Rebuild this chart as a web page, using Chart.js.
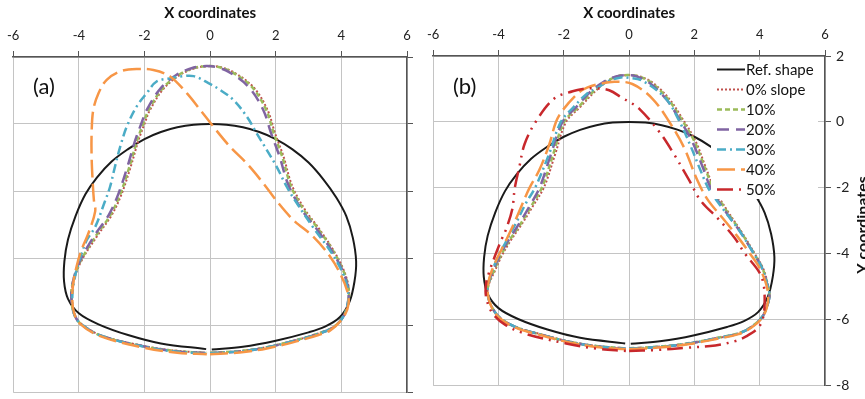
<!DOCTYPE html>
<html>
<head>
<meta charset="utf-8">
<script src="https://cdn.jsdelivr.net/npm/chart.js@4.4.1/dist/chart.umd.min.js"></script>
<style>
  html, body { margin: 0; padding: 0; background: #fff; }
  #wrap { position: relative; width: 865px; height: 399px; overflow: hidden; }
  #chartA { position: absolute; left: 0; top: 0; }
  #chartB { position: absolute; left: 420px; top: 0; }
</style>
</head>
<body>
<div id="wrap">
  <canvas id="chartA" width="420" height="399"></canvas>
  <canvas id="chartB" width="445" height="399"></canvas>
</div>
<script>
// axis ranges / ticks
const xRange = [-6, 6];
const yRange = [-8, 2];
const tickStep = 2;
const seriesLabels = ['Ref. shape', '0% slope', '10%', '20%', '30%', '40%', '50%'];

// reference shape (same in both panels), [x, y]
const refShape = [[0.05,-6.73],[1,-6.65],[2,-6.47],[3,-6.22],[3.5,-6.05],[3.95,-5.77],[4.25,-5.3],[4.4,-4.7],[4.45,-4.1],[4.35,-3.4],[4.15,-2.75],[3.85,-2.2],[3.45,-1.65],[3.0,-1.15],[2.5,-0.75],[2.0,-0.45],[1.5,-0.24],[1.0,-0.1],[0.5,-0.02],[0,0],[-0.5,-0.02],[-1,-0.1],[-1.5,-0.24],[-2,-0.45],[-2.5,-0.75],[-3,-1.12],[-3.45,-1.6],[-3.8,-2.1],[-4.1,-2.75],[-4.33,-3.45],[-4.44,-4.1],[-4.45,-4.7],[-4.33,-5.22],[-4.0,-5.65],[-3.4,-5.98],[-2.5,-6.3],[-1.5,-6.55],[-0.12,-6.72]];

// panel (a)
const slope0a = [[0.02,-6.83],[0.9,-6.78],[1.73,-6.66],[2.74,-6.42],[3.3,-6.25],[3.76,-6.06],[4.07,-5.72],[4.22,-5.26],[4.22,-4.86],[4.07,-4.36],[3.76,-3.77],[3.3,-3.1],[2.92,-2.6],[2.62,-2.1],[2.44,-1.68],[2.24,-0.98],[1.98,-0.28],[1.75,0.42],[1.32,1.1],[0.71,1.55],[0.3,1.7],[0.02,1.73],[-0.41,1.68],[-0.91,1.47],[-1.42,1.05],[-1.83,0.42],[-2.0,0.0],[-2.18,-0.48],[-2.42,-1.28],[-2.7,-2.1],[-3.0,-2.72],[-3.46,-3.37],[-3.96,-4.16],[-4.2,-4.85],[-4.22,-5.3],[-4.15,-5.65],[-3.98,-5.92],[-3.35,-6.3],[-2.0,-6.63],[-1.0,-6.77],[-0.08,-6.83]];
const slope10a = [[0.0,-6.83],[0.9,-6.78],[1.73,-6.66],[2.74,-6.42],[3.3,-6.25],[3.76,-6.06],[4.07,-5.72],[4.22,-5.26],[4.21,-4.86],[4.05,-4.36],[3.74,-3.77],[3.27,-3.1],[2.88,-2.6],[2.58,-2.1],[2.4,-1.68],[2.2,-0.98],[1.94,-0.28],[1.71,0.42],[1.28,1.1],[0.67,1.55],[0.26,1.7],[-0.02,1.73],[-0.45,1.68],[-0.95,1.47],[-1.46,1.05],[-1.87,0.42],[-2.04,0.0],[-2.22,-0.48],[-2.46,-1.28],[-2.74,-2.1],[-3.04,-2.72],[-3.5,-3.37],[-3.98,-4.16],[-4.21,-4.85],[-4.22,-5.3],[-4.15,-5.65],[-3.98,-5.93],[-3.35,-6.31],[-2.0,-6.64],[-1.0,-6.78],[-0.1,-6.83]];
const slope20a = [[0.0,-6.84],[0.9,-6.79],[1.73,-6.67],[2.74,-6.43],[3.3,-6.26],[3.76,-6.07],[4.07,-5.73],[4.21,-5.26],[4.2,-4.86],[4.03,-4.36],[3.7,-3.77],[3.22,-3.1],[2.82,-2.6],[2.52,-2.1],[2.33,-1.68],[2.12,-0.98],[1.86,-0.28],[1.62,0.42],[1.18,1.1],[0.58,1.55],[0.18,1.7],[-0.12,1.73],[-0.52,1.68],[-1.02,1.47],[-1.52,1.05],[-1.93,0.42],[-2.1,0.0],[-2.28,-0.48],[-2.52,-1.28],[-2.8,-2.1],[-3.09,-2.72],[-3.55,-3.37],[-4.0,-4.16],[-4.21,-4.85],[-4.22,-5.3],[-4.15,-5.65],[-3.98,-5.93],[-3.35,-6.31],[-2.0,-6.64],[-1.0,-6.79],[-0.1,-6.84]];
const slope30a = [[0.0,-6.84],[0.9,-6.79],[1.73,-6.67],[2.74,-6.43],[3.3,-6.26],[3.76,-6.07],[4.07,-5.73],[4.21,-5.26],[4.18,-4.86],[4.0,-4.36],[3.65,-3.77],[3.15,-3.1],[2.6,-2.3],[2.34,-1.88],[2.03,-1.28],[1.73,-0.78],[1.42,-0.28],[1.12,0.22],[0.71,0.72],[0.3,1.02],[-0.05,1.22],[-0.5,1.43],[-0.91,1.42],[-1.17,1.37],[-1.63,1.27],[-1.93,0.92],[-2.24,0.52],[-2.54,-0.08],[-2.74,-0.68],[-2.9,-1.28],[-3.05,-1.88],[-3.22,-2.35],[-3.5,-3.07],[-3.76,-3.47],[-3.91,-3.86],[-4.07,-4.36],[-4.17,-4.86],[-4.2,-5.3],[-4.15,-5.65],[-3.98,-5.93],[-3.35,-6.31],[-2.0,-6.65],[-1.0,-6.8],[-0.1,-6.85]];
const slope40a = [[0.0,-6.87],[0.9,-6.82],[1.73,-6.7],[2.74,-6.46],[3.3,-6.3],[3.66,-6.16],[4.07,-5.76],[4.22,-5.36],[4.17,-4.96],[3.96,-4.46],[3.66,-3.96],[3.15,-3.37],[2.54,-2.87],[2.03,-2.3],[1.63,-1.78],[1.12,-1.18],[0.61,-0.68],[0.1,-0.08],[-0.3,0.42],[-0.71,0.92],[-1.22,1.42],[-1.73,1.61],[-2.24,1.64],[-2.74,1.57],[-3.15,1.32],[-3.4,0.92],[-3.56,0.42],[-3.61,-0.28],[-3.61,-0.98],[-3.58,-1.68],[-3.54,-2.28],[-3.5,-2.6],[-3.71,-3.27],[-3.92,-3.76],[-4.07,-4.26],[-4.17,-4.76],[-4.2,-5.2],[-4.15,-5.62],[-3.98,-5.95],[-3.35,-6.33],[-2.0,-6.68],[-1.0,-6.83],[-0.1,-6.87]];

// panel (b)
const slope0b = [[0.02,-6.88],[1,-6.82],[1.85,-6.72],[2.7,-6.56],[3.35,-6.42],[3.75,-6.22],[4.08,-5.92],[4.22,-5.6],[4.3,-5.27],[4.25,-4.93],[4.1,-4.43],[3.85,-4.0],[3.44,-3.33],[3.04,-2.74],[2.62,-2.05],[2.34,-1.36],[2.03,-0.57],[1.62,0.12],[1.22,0.71],[0.71,1.2],[0.3,1.39],[0,1.42],[-0.3,1.39],[-0.71,1.2],[-1.07,0.9],[-1.5,0.45],[-1.93,0],[-2.27,-1.0],[-2.6,-1.97],[-2.95,-2.56],[-3.26,-3.06],[-3.66,-3.65],[-3.92,-4.1],[-4.12,-4.54],[-4.3,-4.94],[-4.33,-5.24],[-4.22,-5.58],[-3.97,-5.93],[-3.46,-6.23],[-2.74,-6.43],[-1.93,-6.64],[-1,-6.8],[-0.08,-6.88]];
const slope10b = [[0.0,-6.87],[1,-6.81],[1.85,-6.71],[2.7,-6.55],[3.35,-6.41],[3.75,-6.21],[4.07,-5.92],[4.22,-5.6],[4.3,-5.27],[4.24,-4.93],[4.08,-4.43],[3.83,-4.0],[3.42,-3.33],[3.01,-2.74],[2.59,-2.05],[2.31,-1.36],[1.99,-0.57],[1.58,0.12],[1.18,0.71],[0.67,1.2],[0.26,1.39],[-0.04,1.42],[-0.34,1.39],[-0.75,1.2],[-1.12,0.9],[-1.55,0.45],[-1.99,0],[-2.33,-1.0],[-2.66,-1.97],[-3.0,-2.56],[-3.3,-3.06],[-3.7,-3.65],[-3.95,-4.1],[-4.15,-4.54],[-4.31,-4.94],[-4.33,-5.24],[-4.22,-5.58],[-3.97,-5.93],[-3.46,-6.23],[-2.74,-6.44],[-1.93,-6.65],[-1,-6.8],[-0.1,-6.87]];
const slope20b = [[0.0,-6.88],[1,-6.82],[1.85,-6.72],[2.7,-6.56],[3.35,-6.42],[3.75,-6.22],[4.07,-5.93],[4.22,-5.6],[4.3,-5.27],[4.23,-4.93],[4.07,-4.43],[3.82,-4.0],[3.4,-3.33],[2.97,-2.74],[2.52,-2.05],[2.25,-1.36],[1.92,-0.57],[1.52,0.12],[1.12,0.71],[0.6,1.2],[0.2,1.39],[-0.08,1.42],[-0.4,1.38],[-0.8,1.2],[-1.2,0.9],[-1.62,0.45],[-2.04,0],[-2.4,-1.0],[-2.73,-1.97],[-3.05,-2.56],[-3.35,-3.06],[-3.73,-3.65],[-3.98,-4.1],[-4.18,-4.54],[-4.32,-4.94],[-4.33,-5.24],[-4.22,-5.58],[-3.97,-5.93],[-3.46,-6.23],[-2.74,-6.44],[-1.93,-6.65],[-1,-6.81],[-0.1,-6.88]];
const slope30b = [[0.0,-6.88],[1,-6.82],[1.85,-6.72],[2.7,-6.56],[3.35,-6.42],[3.75,-6.22],[4.07,-5.93],[4.22,-5.6],[4.3,-5.27],[4.23,-4.93],[4.07,-4.43],[3.82,-4.0],[3.4,-3.33],[2.95,-2.74],[2.45,-2.05],[2.2,-1.5],[1.9,-0.77],[1.54,0.02],[1.12,0.71],[0.41,1.25],[0.0,1.34],[-0.25,1.35],[-0.6,1.25],[-0.95,1.05],[-1.3,0.85],[-1.7,0.45],[-2.09,0],[-2.46,-1.0],[-2.88,-2.0],[-3.15,-2.45],[-3.46,-3.06],[-3.78,-3.65],[-4.02,-4.1],[-4.2,-4.54],[-4.32,-4.94],[-4.33,-5.24],[-4.22,-5.58],[-3.97,-5.93],[-3.46,-6.23],[-2.74,-6.44],[-1.93,-6.65],[-1,-6.81],[-0.1,-6.88]];
const slope40b = [[0.0,-6.9],[1,-6.84],[1.85,-6.74],[2.7,-6.58],[3.35,-6.44],[3.75,-6.24],[4.07,-5.95],[4.22,-5.62],[4.26,-5.25],[4.17,-4.83],[3.98,-4.4],[3.72,-4.02],[3.3,-3.45],[2.85,-2.9],[2.4,-2.35],[2.08,-1.75],[1.68,-0.77],[1.22,0.02],[0.71,0.71],[0.1,1.15],[-0.45,1.22],[-0.92,1.15],[-1.27,1.05],[-1.53,0.9],[-2.03,0.36],[-2.24,0],[-2.44,-0.67],[-2.75,-1.46],[-3.05,-2.0],[-3.26,-2.47],[-3.56,-3.16],[-3.82,-3.7],[-4.07,-4.2],[-4.28,-4.74],[-4.33,-5.2],[-4.22,-5.6],[-3.97,-5.95],[-3.46,-6.25],[-2.74,-6.46],[-1.93,-6.67],[-1,-6.83],[-0.1,-6.9]];
const slope50b = [[0.0,-6.95],[0.81,-6.92],[1.8,-6.85],[2.64,-6.78],[3.25,-6.65],[3.6,-6.5],[3.95,-6.25],[4.1,-5.95],[4.15,-5.52],[4.12,-4.93],[3.98,-4.55],[3.55,-4.0],[3.24,-3.53],[2.73,-2.94],[2.2,-2.4],[1.83,-1.75],[1.37,-0.97],[0.91,-0.28],[0.3,0.41],[0,0.61],[-0.2,0.72],[-0.61,0.96],[-1.05,1.02],[-1.42,1.0],[-1.73,0.93],[-2.29,0.71],[-2.85,0.02],[-3.2,-0.67],[-3.36,-1.36],[-3.5,-2.0],[-3.58,-2.66],[-3.77,-3.26],[-3.92,-3.6],[-4.12,-4.1],[-4.28,-4.54],[-4.38,-4.9],[-4.38,-5.3],[-4.2,-5.78],[-3.8,-6.15],[-3.2,-6.42],[-1.93,-6.72],[-1,-6.88],[-0.1,-6.95]];

// line look per series (same order as seriesLabels)
const lineStyles = [
  { color: '#1a1a1a', dash: [], width: 2 },
  { color: '#c0504d', dash: [2, 2], width: 2 },
  { color: '#9bbb59', dash: [5, 3], width: 2.5 },
  { color: '#8064a2', dash: [12, 7], width: 2.5 },
  { color: '#4bacc6', dash: [9, 4, 2, 4], width: 2.5 },
  { color: '#f79646', dash: [18, 6], width: 2.5 },
  { color: '#c8282c', dash: [16, 6, 2, 6, 2, 6], width: 2.5 }
];

function makeDataset(i, pts) {
  const s = lineStyles[i];
  return {
    label: seriesLabels[i],
    data: pts.map(p => ({ x: p[0], y: p[1] })),
    showLine: true,
    pointRadius: 0,
    borderColor: s.color,
    backgroundColor: s.color,
    borderWidth: s.width,
    borderDash: s.dash,
    tension: 0.35,
    fill: false,
    order: seriesLabels.length - i
  };
}

const fontFamily = 'Lato, "Open Sans", sans-serif';

function xScale(h) {
  return {
    type: 'linear',
    position: 'top',
    min: xRange[0],
    max: xRange[1],
    ticks: { stepSize: tickStep, color: '#222', padding: 7, maxRotation: 0, font: { size: 13, family: fontFamily } },
    grid: { color: '#c4c4c4', lineWidth: 1, tickLength: 6, tickColor: '#555' },
    border: { color: '#555', width: 1.5 },
    title: { display: true, text: 'X coordinates', color: '#111', padding: { top: 4, bottom: 0 }, font: { size: 15, weight: 'bold', family: fontFamily } },
    afterFit: s => { s.height = h; }
  };
}

function yScale(showLabels, w) {
  return {
    type: 'linear',
    position: 'right',
    min: yRange[0],
    max: yRange[1],
    ticks: { stepSize: tickStep, display: showLabels, color: '#222', padding: 5, font: { size: 14, family: fontFamily } },
    grid: { color: '#c4c4c4', lineWidth: 1, tickLength: 6, tickColor: '#555' },
    border: { color: '#555', width: 1.5 },
    afterFit: s => { s.width = w; }
  };
}

// "(a)" / "(b)" tag inside the plot
const panelLabel = {
  id: 'panelLabel',
  afterDraw(chart, args, opts) {
    const ctx = chart.ctx;
    ctx.save();
    ctx.font = '22px ' + fontFamily;
    ctx.fillStyle = '#111';
    ctx.textBaseline = 'middle';
    ctx.fillText(opts.text, 33, 87);
    ctx.restore();
  }
};

// legend box with white background, drawn over the plot
const legendBox = {
  id: 'legendBox',
  afterDatasetsDraw(chart) {
    const ctx = chart.ctx;
    ctx.save();
    ctx.fillStyle = '#fff';
    ctx.fillRect(291, 60, 107, 139);
    chart.data.datasets.forEach((ds, i) => {
      const y = 69.5 + i * 20;
      ctx.strokeStyle = ds.borderColor;
      ctx.lineWidth = ds.borderWidth;
      ctx.setLineDash(ds.borderDash);
      ctx.beginPath();
      ctx.moveTo(297, y);
      ctx.lineTo(325, y);
      ctx.stroke();
      ctx.setLineDash([]);
      ctx.fillStyle = '#111';
      ctx.font = '15px ' + fontFamily;
      ctx.textBaseline = 'middle';
      ctx.fillText(ds.label, 326, y + 1);
    });
    ctx.restore();
  }
};

// right-hand y title, reading bottom to top
const yTitle = {
  id: 'yTitle',
  afterDraw(chart) {
    const ctx = chart.ctx;
    ctx.save();
    ctx.translate(448, 225);
    ctx.rotate(-Math.PI / 2);
    ctx.font = 'bold 16px ' + fontFamily;
    ctx.fillStyle = '#111';
    ctx.textAlign = 'center';
    ctx.textBaseline = 'alphabetic';
    ctx.fillText('Y coordinates', 0, 0);
    ctx.restore();
  }
};

new Chart(document.getElementById('chartA'), {
  type: 'scatter',
  data: {
    datasets: [
      makeDataset(0, refShape),
      makeDataset(1, slope0a),
      makeDataset(2, slope10a),
      makeDataset(3, slope20a),
      makeDataset(4, slope30a),
      makeDataset(5, slope40a)
    ]
  },
  options: {
    responsive: false,
    animation: false,
    events: [],
    layout: { padding: { left: 13, right: 0, top: 0, bottom: 7 } },
    plugins: {
      legend: { display: false },
      tooltip: { enabled: false },
      panelLabel: { text: '(a)' }
    },
    scales: { x: xScale(57), y: yScale(false, 13) }
  },
  plugins: [panelLabel]
});

new Chart(document.getElementById('chartB'), {
  type: 'scatter',
  data: {
    datasets: [
      makeDataset(0, refShape),
      makeDataset(1, slope0b),
      makeDataset(2, slope10b),
      makeDataset(3, slope20b),
      makeDataset(4, slope30b),
      makeDataset(5, slope40b),
      makeDataset(6, slope50b)
    ]
  },
  options: {
    responsive: false,
    animation: false,
    events: [],
    layout: { padding: { left: 10, right: 0, top: 0, bottom: 6 } },
    plugins: {
      legend: { display: false },
      tooltip: { enabled: false },
      panelLabel: { text: '(b)' }
    },
    scales: { x: xScale(56), y: yScale(true, 40) }
  },
  plugins: [panelLabel, legendBox, yTitle]
});
</script>
</body>
</html>
